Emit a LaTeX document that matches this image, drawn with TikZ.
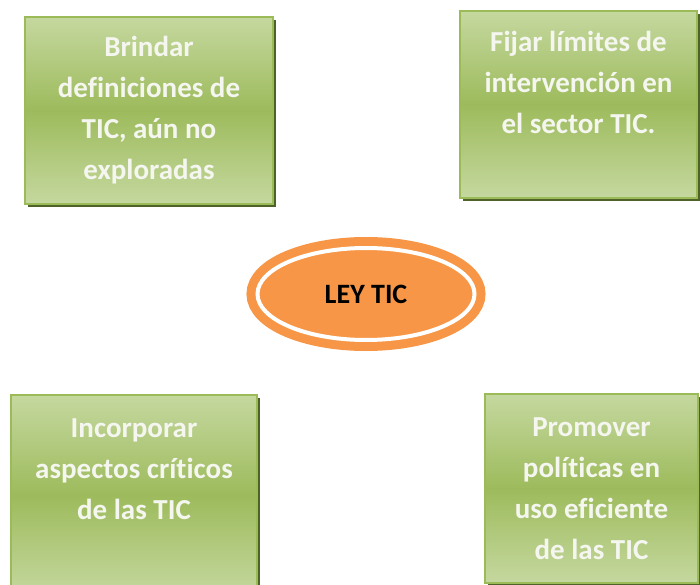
\documentclass[tikz,border=0pt]{standalone}
\usepackage{fontspec}
\setmainfont{Carlito}[Ligatures=NoCommon]
\usepackage{xcolor}
\usepackage{tikz}
\usetikzlibrary{shapes.geometric,shadows}

\definecolor{boxlight}{HTML}{C5D89F}
\definecolor{boxmid}{HTML}{9DBB5C}
\definecolor{boxedge}{HTML}{9BBB59}
\definecolor{boxshadow}{HTML}{4F6228}
\definecolor{leyorange}{HTML}{F79646}
\definecolor{boxtext}{HTML}{F4F6EF}

\begin{document}
\begin{tikzpicture}[x=1pt, y=-1pt,
    topicbox/.style={rectangle, draw=boxedge, line width=2pt,
        top color=boxlight, bottom color=boxlight, middle color=boxmid,
        drop shadow={shadow xshift=3pt, shadow yshift=-3pt, fill=boxshadow, opacity=1},
        align=center, text=boxtext, inner sep=0pt,
        font=\fontsize{29}{41}\selectfont\bfseries},
    leynode/.style={ellipse, fill=leyorange, draw=white, line width=4pt,
        preaction={draw=leyorange, line width=22pt},
        minimum width=217pt, minimum height=92pt, inner sep=0pt,
        font=\fontsize{28}{32}\selectfont\bfseries}]
    \useasboundingbox (0,0) rectangle (700,585);

    % Boxes round the centre
    \node[topicbox, minimum width=248pt, minimum height=187pt] (brindar) at (149,110.5)
        {Brindar\\definiciones de\\TIC, aún no\\exploradas};
    \node[topicbox, minimum width=237pt, minimum height=187pt] (fijar) at (578.5,104.5)
        {Fijar límites de\\intervención en\\el sector TIC.\\[-9pt] \strut};
    \node[topicbox, minimum width=246pt, minimum height=201pt] (incorporar) at (134,495.5)
        {Incorporar\\aspectos críticos\\de las TIC\\ \strut};
    \node[topicbox, minimum width=213pt, minimum height=189pt] (promover) at (591.5,488.5)
        {Promover\\políticas en\\uso eficiente\\de las TIC};

    % Centre
    \node[leynode] (ley) at (366,294) {LEY TIC};
\end{tikzpicture}
\end{document}
